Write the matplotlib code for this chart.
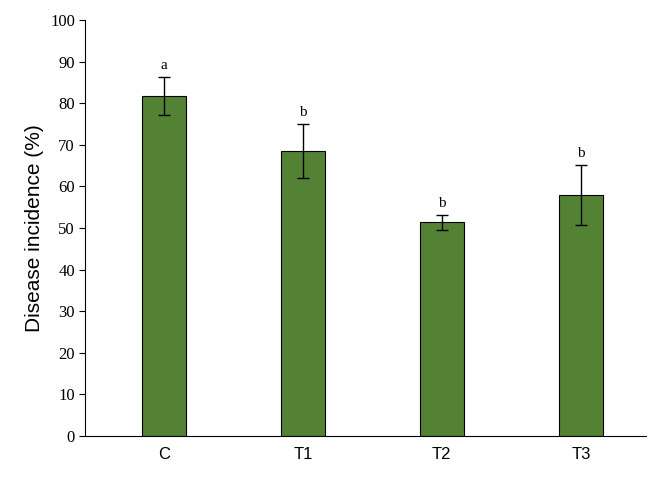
import matplotlib.pyplot as plt

groups = ["C", "T1", "T2", "T3"]
incidence = [81.7, 68.5, 51.4, 57.9]
errors = [4.6, 6.5, 1.8, 7.2]
letters = ["a", "b", "b", "b"]

fig = plt.figure(figsize=(6.56, 4.82), dpi=100)
ax = fig.add_axes([0.13, 0.0954, 0.855, 0.863])

x = range(len(groups))
ax.bar(x, incidence, width=0.32, color="#548235", edgecolor="black", linewidth=0.8,
       yerr=errors, error_kw=dict(ecolor="black", elinewidth=1, capsize=4, capthick=1))
for i, (v, e, l) in enumerate(zip(incidence, errors, letters)):
    ax.text(i, v + e + 1.2, l, ha="center", va="bottom", fontsize=11, family="Liberation Serif")

ax.set_xlim(-0.565, 3.47)
ax.set_ylim(0, 100)
ax.set_yticks(range(0, 101, 10))
ax.set_xticks(list(x))
ax.set_xticklabels(groups, fontsize=12, family="Liberation Sans")
for t in ax.get_yticklabels():
    t.set_family("Liberation Serif")
    t.set_fontsize(12)
ax.set_ylabel("Disease incidence (%)", fontsize=15, family="Liberation Sans")
ax.spines["top"].set_visible(False)
ax.spines["right"].set_visible(False)
ax.tick_params(axis="x", length=0, pad=8)
ax.tick_params(axis="y", direction="out", length=4)

fig.savefig("out.png", dpi=100)
